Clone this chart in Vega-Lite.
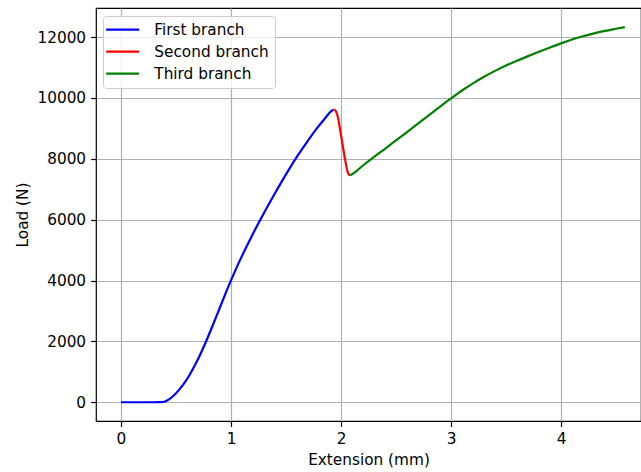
{
  "$schema": "https://vega.github.io/schema/vega-lite/v6.json",
  "autosize": "none",
  "width": 545,
  "height": 413,
  "padding": {"left": 96, "top": 8, "right": 0, "bottom": 51},
  "background": "white",
  "data": {
    "values": [
      {"branch": "First branch", "ext": 0.0, "load": 0},
      {"branch": "First branch", "ext": 0.1, "load": 0},
      {"branch": "First branch", "ext": 0.2, "load": 0},
      {"branch": "First branch", "ext": 0.3, "load": 0},
      {"branch": "First branch", "ext": 0.36, "load": 2},
      {"branch": "First branch", "ext": 0.4, "load": 26},
      {"branch": "First branch", "ext": 0.44, "load": 102},
      {"branch": "First branch", "ext": 0.48, "load": 220},
      {"branch": "First branch", "ext": 0.53, "load": 413},
      {"branch": "First branch", "ext": 0.58, "load": 651},
      {"branch": "First branch", "ext": 0.63, "load": 936},
      {"branch": "First branch", "ext": 0.68, "load": 1269},
      {"branch": "First branch", "ext": 0.73, "load": 1644},
      {"branch": "First branch", "ext": 0.78, "load": 2054},
      {"branch": "First branch", "ext": 0.83, "load": 2489},
      {"branch": "First branch", "ext": 0.88, "load": 2939},
      {"branch": "First branch", "ext": 0.93, "load": 3391},
      {"branch": "First branch", "ext": 1.0, "load": 4005},
      {"branch": "First branch", "ext": 1.1, "load": 4810},
      {"branch": "First branch", "ext": 1.2, "load": 5540},
      {"branch": "First branch", "ext": 1.3, "load": 6220},
      {"branch": "First branch", "ext": 1.4, "load": 6870},
      {"branch": "First branch", "ext": 1.5, "load": 7490},
      {"branch": "First branch", "ext": 1.6, "load": 8070},
      {"branch": "First branch", "ext": 1.7, "load": 8600},
      {"branch": "First branch", "ext": 1.8, "load": 9090},
      {"branch": "First branch", "ext": 1.85, "load": 9310},
      {"branch": "First branch", "ext": 1.9, "load": 9530},
      {"branch": "First branch", "ext": 1.93, "load": 9620},
      {"branch": "Second branch", "ext": 1.93, "load": 9620},
      {"branch": "Second branch", "ext": 1.945, "load": 9600},
      {"branch": "Second branch", "ext": 1.96, "load": 9510},
      {"branch": "Second branch", "ext": 1.975, "load": 9320},
      {"branch": "Second branch", "ext": 1.99, "load": 9000},
      {"branch": "Second branch", "ext": 2.005, "load": 8680},
      {"branch": "Second branch", "ext": 2.035, "load": 8020},
      {"branch": "Second branch", "ext": 2.06, "load": 7580},
      {"branch": "Second branch", "ext": 2.072, "load": 7480},
      {"branch": "Second branch", "ext": 2.082, "load": 7462},
      {"branch": "Third branch", "ext": 2.082, "load": 7462},
      {"branch": "Third branch", "ext": 2.1, "load": 7495},
      {"branch": "Third branch", "ext": 2.15, "load": 7625},
      {"branch": "Third branch", "ext": 2.2, "load": 7780},
      {"branch": "Third branch", "ext": 2.3, "load": 8060},
      {"branch": "Third branch", "ext": 2.4, "load": 8330},
      {"branch": "Third branch", "ext": 2.5, "load": 8605},
      {"branch": "Third branch", "ext": 2.6, "load": 8880},
      {"branch": "Third branch", "ext": 2.7, "load": 9160},
      {"branch": "Third branch", "ext": 2.8, "load": 9440},
      {"branch": "Third branch", "ext": 2.9, "load": 9715},
      {"branch": "Third branch", "ext": 3.0, "load": 9985},
      {"branch": "Third branch", "ext": 3.1, "load": 10245},
      {"branch": "Third branch", "ext": 3.2, "load": 10480},
      {"branch": "Third branch", "ext": 3.3, "load": 10695},
      {"branch": "Third branch", "ext": 3.4, "load": 10890},
      {"branch": "Third branch", "ext": 3.5, "load": 11065},
      {"branch": "Third branch", "ext": 3.6, "load": 11225},
      {"branch": "Third branch", "ext": 3.7, "load": 11375},
      {"branch": "Third branch", "ext": 3.8, "load": 11520},
      {"branch": "Third branch", "ext": 3.9, "load": 11660},
      {"branch": "Third branch", "ext": 4.0, "load": 11795},
      {"branch": "Third branch", "ext": 4.1, "load": 11920},
      {"branch": "Third branch", "ext": 4.2, "load": 12030},
      {"branch": "Third branch", "ext": 4.3, "load": 12125},
      {"branch": "Third branch", "ext": 4.4, "load": 12205},
      {"branch": "Third branch", "ext": 4.5, "load": 12275},
      {"branch": "Third branch", "ext": 4.58, "load": 12330}
    ]
  },
  "mark": {"type": "line", "strokeWidth": 2.2, "interpolate": "monotone", "clip": true},
  "encoding": {
    "x": {
      "field": "ext", "type": "quantitative",
      "scale": {"domain": [-0.227, 4.727], "nice": false, "zero": false},
      "axis": {"title": "Extension (mm)", "values": [0, 1, 2, 3, 4], "format": "d", "titlePadding": 6}
    },
    "y": {
      "field": "load", "type": "quantitative",
      "scale": {"domain": [-617, 12957], "nice": false, "zero": false},
      "axis": {"title": "Load (N)", "values": [0, 2000, 4000, 6000, 8000, 10000, 12000], "format": "d", "titlePadding": 6}
    },
    "color": {
      "field": "branch", "type": "nominal",
      "scale": {"domain": ["First branch", "Second branch", "Third branch"], "range": ["#0000ff", "#ff0000", "#008000"]},
      "legend": {
        "title": null,
        "orient": "none",
        "legendX": 7,
        "legendY": 8,
        "symbolType": "M-4.125,0H4.125",
        "symbolSize": 64,
        "symbolStrokeWidth": 2.2,
        "symbolOffset": 6,
        "labelFontSize": 15.3,
        "labelFont": "DejaVu Sans",
        "labelColor": "black",
        "labelOffset": 24,
        "padding": 6,
        "rowPadding": 6,
        "fillColor": "rgba(255,255,255,0.8)",
        "strokeColor": "#cccccc",
        "cornerRadius": 3
      }
    }
  },
  "config": {
    "view": {"stroke": "black", "strokeWidth": 1.2},
    "axis": {
      "domain": false,
      "labelFont": "DejaVu Sans",
      "labelFontSize": 15.3,
      "labelColor": "black",
      "tickColor": "black",
      "tickSize": 5.4,
      "tickWidth": 1.2,
      "labelPadding": 5,
      "grid": true,
      "gridColor": "#b0b0b0",
      "gridWidth": 1.2,
      "titleFont": "DejaVu Sans",
      "titleFontSize": 15.3,
      "titleFontWeight": "normal",
      "titleColor": "black"
    }
  }
}
